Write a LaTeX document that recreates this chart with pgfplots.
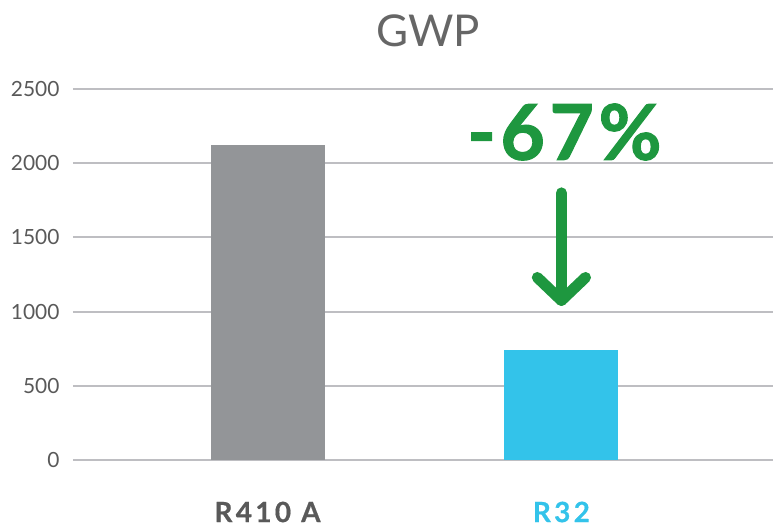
\documentclass[border=0pt]{standalone}
\usepackage{fontspec}
\setmainfont{Lato}
\usepackage{pgfplots}
\pgfplotsset{compat=1.18}
\definecolor{labgray}{RGB}{89,89,89}
\definecolor{titlegray}{RGB}{102,102,102}
\definecolor{bargray}{RGB}{147,149,152}
\definecolor{barcyan}{RGB}{51,195,234}
\definecolor{gridgray}{RGB}{190,190,194}
\definecolor{arrowgreen}{RGB}{30,151,63}
\begin{document}
\begin{tikzpicture}
\begin{axis}[
  scale only axis,
  width=700bp, height=371bp,
  xmin=-0.662, xmax=1.72,
  ymin=0, ymax=2500,
  axis line style={draw=none},
  ytick={0,500,1000,1500,2000,2500},
  xtick={0,1},
  xticklabels={{\color{labgray}R410 A},{\color{barcyan}R32}},
  ymajorgrids,
  grid style={gridgray, line width=2bp},
  major tick length=0pt,
  /pgf/number format/assume math mode=true,
  /pgf/number format/1000 sep={},
  yticklabel style={font=\fontsize{21}{24}\selectfont, text=labgray, anchor=east, xshift=-10bp},
  xticklabel style={font=\fontsize{28}{30}\selectfont\bfseries\addfontfeature{LetterSpace=12,FakeBold=0.6}, anchor=center, yshift=-52bp},
  clip=false,
]
\addplot[ybar, bar width=114bp, fill=bargray, draw=none] coordinates {(0,2120)};
\addplot[ybar, bar width=114bp, fill=barcyan, draw=none] coordinates {(1,740)};
\node[text=arrowgreen, font=\fontsize{77}{80}\selectfont\bfseries\addfontfeature{LetterSpace=6,FakeBold=1.5}] at (axis cs:1.01,2210) {-67\%};
\draw[arrowgreen, line width=11bp, line cap=round, line join=round] (axis cs:1,1800) -- (axis cs:1,1075);
\draw[arrowgreen, line width=11bp, line cap=round, line join=round] (axis cs:0.918,1230) -- (axis cs:1,1075) -- (axis cs:1.082,1230);
\node[text=titlegray, font=\fontsize{44}{48}\selectfont, anchor=center] at (axis cs:0.546,2890) {GWP};
\end{axis}
\pgfresetboundingbox
\path ([shift={(-73bp,-67bp)}]current axis.south west) rectangle ([shift={(0bp,89bp)}]current axis.north east);
\end{tikzpicture}
\end{document}
